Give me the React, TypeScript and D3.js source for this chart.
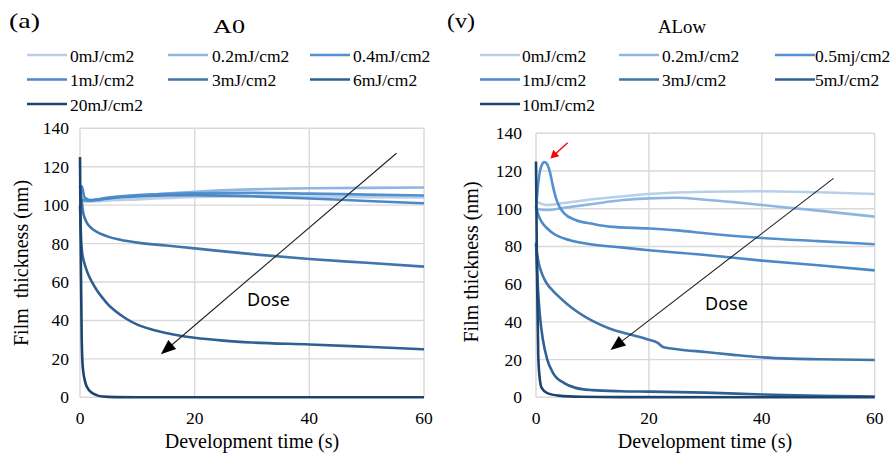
import React from "react";
import * as d3 from "d3";

// ---------- data ----------
const xTicks = [0, 20, 40, 60];
const yTicks = [0, 20, 40, 60, 80, 100, 120, 140];

const a0Labels = ["0mJ/cm2", "0.2mJ/cm2", "0.4mJ/cm2", "1mJ/cm2", "3mJ/cm2", "6mJ/cm2", "20mJ/cm2"];
const aLowLabels = ["0mJ/cm2", "0.2mJ/cm2", "0.5mj/cm2", "1mJ/cm2", "3mJ/cm2", "5mJ/cm2", "10mJ/cm2"];
const seriesColors = ["#b8cfea", "#8fb6e2", "#5490cd", "#4b88c6", "#3f75ab", "#2f6094", "#1d446f"];

// A0 series: time (s) and thickness (nm)
const a0_0t = [0, 0.3, 1, 3, 5, 10, 20, 30, 40, 50, 60];
const a0_0v = [104, 103, 102, 102, 102.5, 103, 104.3, 104.6, 104.5, 104.2, 104];
const a0_02t = [0, 0.3, 1, 3, 5, 10, 20, 30, 40, 50, 60];
const a0_02v = [103, 102.5, 102, 102.5, 103.5, 105, 107, 108.2, 108.8, 109, 109.2];
const a0_04t = [0, 0.3, 1, 3, 5, 10, 20, 30, 40, 50, 60];
const a0_04v = [104, 103, 102.5, 103, 104, 105.2, 106.2, 106.4, 106, 105.5, 105];
const a0_1t = [0, 0.3, 0.8, 2, 5, 10, 20, 30, 40, 50, 60];
const a0_1v = [105, 110, 104, 102.5, 103.5, 104.5, 105.2, 104.6, 103.5, 102.2, 101];
const a0_3t = [0, 0.2, 0.5, 1, 1.5, 2, 3, 4, 5, 7, 10, 15, 20, 30, 40, 50, 60];
const a0_3v = [110, 105, 97, 92, 89.5, 88, 86, 84.6, 83.5, 82, 80.5, 79, 77.5, 74.5, 72, 70, 68];
const a0_6t = [0, 0.1, 0.2, 0.35, 0.5, 0.75, 1, 1.5, 2, 3, 4, 5, 6, 8, 10, 12.5, 15, 20, 25, 30, 40, 50, 60];
const a0_6v = [100, 90, 82, 76, 73, 70, 67.5, 63.5, 60.5, 55.5, 51.5, 48, 45.3, 41, 37.8, 35.3, 33.5, 31, 29.5, 28.5, 27.5, 26.3, 25];
const a0_20t = [0, 0.15, 0.3, 0.5, 1, 1.5, 2, 3, 4, 6, 10, 60];
const a0_20v = [125, 70, 30, 15, 7, 4, 2.5, 1, 0.4, 0.1, 0, 0];

// ALow series
const al_0t = [0, 1, 2, 5, 10, 15, 20, 25, 30, 40, 50, 60];
const al_0v = [104, 102.5, 102, 103, 105, 106.5, 107.8, 108.6, 109, 109.3, 108.7, 107.8];
const al_02t = [0, 1, 2, 5, 10, 15, 20, 25, 30, 35, 40, 50, 60];
const al_02v = [100, 99.5, 99.3, 100.5, 102.5, 104.5, 105.5, 105.8, 104.8, 103.5, 102, 99, 95.8];
const al_05t = [0, 0.5, 1, 1.5, 2, 2.5, 3, 3.5, 4, 5, 7, 10, 13, 20, 25, 30, 40, 50, 60];
const al_05v = [100, 116, 123, 124.8, 123.5, 119, 112, 106, 102, 97.5, 94, 92, 90.5, 89.5, 88.5, 87, 84.5, 82.8, 81.2];
const al_1t = [0, 0.5, 1, 2, 3, 4, 6, 10, 15, 20, 30, 40, 50, 60];
const al_1v = [101, 96, 93, 89.5, 87, 85.3, 83.3, 81, 79.5, 78, 75.5, 72.5, 70, 67.3];
const al_3t = [0, 0.2, 0.5, 1, 1.5, 2, 3, 4, 5.5, 7, 8.5, 10, 13, 16, 20, 21.5, 22.6, 25, 30, 35, 40, 45, 50, 60];
const al_3v = [81, 76, 71, 66, 62.5, 60, 56.5, 53.5, 49.5, 46, 43, 40.5, 36.5, 33.8, 30.5, 29, 26.5, 25.5, 24, 22.5, 21.2, 20.5, 20.2, 19.8];
const al_5t = [0, 0.3, 0.7, 1.2, 2, 3, 5, 7, 10, 15, 20, 30, 40, 50, 60];
const al_5v = [82, 60, 43, 31, 20, 13, 7.5, 5, 3.8, 3.2, 3, 2.5, 1.5, 0.8, 0.4];
const al_10t = [0, 0.2, 0.4, 0.7, 1, 2, 4, 8, 15, 60];
const al_10v = [125, 60, 22, 9, 5, 2.2, 0.9, 0.3, 0.1, 0];

// annotation arrows in data coordinates [fromT, fromV, toT, toV]
const a0Arrow = [55.2, 127, 14.1, 22.4];
const aLowArrow = [52.7, 116.1, 13.2, 25.1];
const aLowRedArrow = [5.6, 135, 2.55, 126.7];

type Series = { t: number[]; v: number[] };

const a0Series: Series[] = [
  { t: a0_0t, v: a0_0v },
  { t: a0_02t, v: a0_02v },
  { t: a0_04t, v: a0_04v },
  { t: a0_1t, v: a0_1v },
  { t: a0_3t, v: a0_3v },
  { t: a0_6t, v: a0_6v },
  { t: a0_20t, v: a0_20v },
];
const aLowSeries: Series[] = [
  { t: al_0t, v: al_0v },
  { t: al_02t, v: al_02v },
  { t: al_05t, v: al_05v },
  { t: al_1t, v: al_1v },
  { t: al_3t, v: al_3v },
  { t: al_5t, v: al_5v },
  { t: al_10t, v: al_10v },
];

const serif = "Liberation Serif, Times New Roman, DejaVu Serif, serif";
const sans = "Noto Sans, Open Sans, sans-serif";

function arrowHead(x1: number, y1: number, x2: number, y2: number, len: number, half: number) {
  const ang = Math.atan2(y2 - y1, x2 - x1);
  const bx = x2 - len * Math.cos(ang);
  const by = y2 - len * Math.sin(ang);
  const px = -Math.sin(ang) * half;
  const py = Math.cos(ang) * half;
  return `M${x2},${y2}L${bx + px},${by + py}L${bx - px},${by - py}Z`;
}

type PanelProps = {
  series: Series[];
  labels: string[];
  x0: number;
  x1: number;
  yTop: number;
  yBot: number;
  yLabelX: number;
  yLabelText: string;
  yLabelCy: number;
  xLabelCx: number;
  tickRightX: number;
  title: string;
  titleCx: number;
  titleW: number;
  tag: string;
  tagX: number;
  tagW: number;
  legendLineX: number[];
  legendTextX: number[];
  arrow: number[];
  doseX: number;
  doseY: number;
  redArrow?: number[];
};

function Panel(p: PanelProps) {
  const x = d3.scaleLinear().domain([0, 60]).range([p.x0, p.x1]);
  const y = d3.scaleLinear().domain([0, 140]).range([p.yBot, p.yTop]);
  const line = d3
    .line<[number, number]>()
    .x((d) => x(d[0]))
    .y((d) => y(d[1]))
    .curve(d3.curveMonotoneX);
  const legendRows = [55, 79.5, 104];

  const [ax1, ay1, ax2, ay2] = p.arrow.map((v, i) => (i % 2 === 0 ? x(v) : y(v)));
  let red = null as any;
  if (p.redArrow) {
    const [r1, r2, r3, r4] = p.redArrow.map((v, i) => (i % 2 === 0 ? x(v) : y(v)));
    red = (
      <g>
        <line x1={r1} y1={r2} x2={r3 + (r1 - r3) * 0.3} y2={r4 + (r2 - r4) * 0.3} stroke="#ff0000" strokeWidth={1.4} />
        <path d={arrowHead(r1, r2, r3, r4, 8, 4.5)} fill="#ff0000" />
      </g>
    );
  }

  return (
    <g>
      <text x={p.tagX} y={28} fontFamily={serif} fontSize={22} textLength={p.tagW} lengthAdjust="spacingAndGlyphs">
        {p.tag}
      </text>
      <text
        x={p.titleCx - p.titleW / 2}
        y={33}
        fontFamily={serif}
        fontSize={18.5}
        textLength={p.titleW}
        lengthAdjust="spacingAndGlyphs"
      >
        {p.title}
      </text>

      {p.labels.map((lab, i) => {
        const col = i % 3;
        const row = Math.floor(i / 3);
        const cy = legendRows[row];
        return (
          <g key={lab + i}>
            <line
              x1={p.legendLineX[col]}
              x2={p.legendLineX[col] + 40}
              y1={cy}
              y2={cy}
              stroke={seriesColors[i]}
              strokeWidth={2.6}
            />
            <text x={p.legendTextX[col]} y={cy + 6.5} fontFamily={serif} fontSize={17.5} fill="#000">
              {lab}
            </text>
          </g>
        );
      })}

      {yTicks.map((t) => (
        <line key={"gy" + t} x1={p.x0} x2={p.x1} y1={y(t)} y2={y(t)} stroke="#d9d9d9" strokeWidth={1.4} />
      ))}
      {xTicks.map((t) => (
        <line key={"gx" + t} x1={x(t)} x2={x(t)} y1={p.yTop} y2={p.yBot} stroke="#d9d9d9" strokeWidth={1.4} />
      ))}

      {yTicks.map((t) => (
        <text key={"ty" + t} x={p.tickRightX} y={y(t) + 6} textAnchor="end" fontFamily={serif} fontSize={17.5}>
          {t}
        </text>
      ))}
      {xTicks.map((t) => (
        <text key={"tx" + t} x={x(t)} y={424} textAnchor="middle" fontFamily={serif} fontSize={17.5}>
          {t}
        </text>
      ))}

      <text
        transform={`translate(${p.yLabelX},${p.yLabelCy}) rotate(-90)`}
        textAnchor="middle"
        fontFamily={serif}
        fontSize={20}
        style={{ whiteSpace: "pre" }}
      >
        {p.yLabelText}
      </text>
      <text x={p.xLabelCx} y={448} textAnchor="middle" fontFamily={serif} fontSize={20}>
        Development time (s)
      </text>

      {p.series.map((s, i) => (
        <path
          key={"s" + i}
          d={line(s.t.map((t, j) => [t, s.v[j]] as [number, number])) || ""}
          fill="none"
          stroke={seriesColors[i]}
          strokeWidth={2.6}
          strokeLinejoin="round"
        />
      ))}

      <line x1={ax1} y1={ay1} x2={ax2 + (ax1 - ax2) * 0.04} y2={ay2 + (ay1 - ay2) * 0.04} stroke="#222" strokeWidth={1.1} />
      <path d={arrowHead(ax1, ay1, ax2, ay2, 15, 6)} fill="#000" />
      <text x={p.doseX} y={p.doseY} fontFamily={sans} fontSize={18} fill="#000">
        Dose
      </text>
      {red}
    </g>
  );
}

export default function App() {
  return (
    <svg
      width={894}
      height={457}
      viewBox="0 0 894 457"
      style={{ position: "absolute", left: 0, top: 0, background: "#fff" }}
    >
      <rect x={0} y={0} width={894} height={457} fill="#fff" />
      <Panel
        series={a0Series}
        labels={a0Labels}
        x0={80}
        x1={424}
        yTop={128.3}
        yBot={397.3}
        yLabelX={28}
        yLabelText={"Film  thickness (nm)"}
        yLabelCy={263}
        xLabelCx={252}
        tickRightX={69}
        title="A0"
        titleCx={229}
        titleW={32}
        tag="(a)"
        tagX={9}
        tagW={31}
        legendLineX={[27, 168, 310]}
        legendTextX={[70, 212, 353]}
        arrow={a0Arrow}
        doseX={247}
        doseY={306}
      />
      <Panel
        series={aLowSeries}
        labels={aLowLabels}
        x0={536}
        x1={874.7}
        yTop={133.3}
        yBot={397.3}
        yLabelX={478}
        yLabelText={"Film thickness (nm)"}
        yLabelCy={262}
        xLabelCx={705}
        tickRightX={522}
        title="ALow"
        titleCx={682}
        titleW={48}
        tag="(v)"
        tagX={447}
        tagW={28}
        legendLineX={[480, 619, 775]}
        legendTextX={[522, 662, 815]}
        arrow={aLowArrow}
        doseX={705}
        doseY={310}
        redArrow={aLowRedArrow}
      />
    </svg>
  );
}
